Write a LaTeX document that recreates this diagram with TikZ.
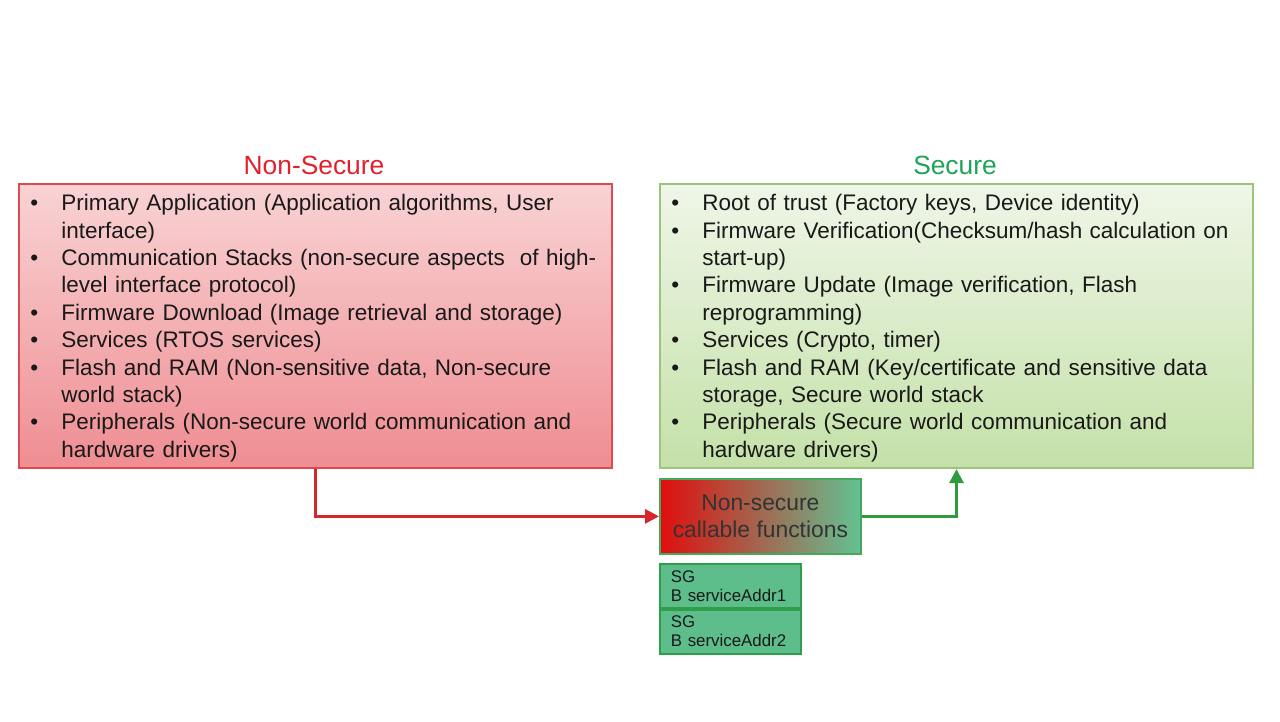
\documentclass[tikz,border=0pt]{standalone}
\usepackage{fontspec}
\setmainfont{Liberation Sans}
\usetikzlibrary{arrows.meta}

\definecolor{nsred}{HTML}{E2202B}
\definecolor{sgreen}{HTML}{1EA456}
\definecolor{nsborder}{HTML}{DD4A50}
\definecolor{nstop}{HTML}{F9D3D4}
\definecolor{nsbottom}{HTML}{EF8D92}
\definecolor{sborder}{HTML}{9CC47F}
\definecolor{stop}{HTML}{EFF6E8}
\definecolor{sbottom}{HTML}{C4E1A8}
\definecolor{callred}{HTML}{E00E0E}
\definecolor{callgreen}{HTML}{63C293}
\definecolor{callborder}{HTML}{46A85A}
\definecolor{sgfill}{HTML}{5DBE8C}
\definecolor{sgborder}{HTML}{2E9E4A}
\definecolor{arrred}{HTML}{D7262B}
\definecolor{arrgreen}{HTML}{2E9B3E}

\newcommand{\bitem}[1]{\hangindent=0.62cm\hangafter=1\noindent\makebox[0.62cm][l]{\textbullet}#1\par}

\begin{document}
\begin{tikzpicture}[x=0.02cm,y=-0.02cm,
    worldbox/.style={anchor=north west,minimum width=11.86cm,minimum height=5.68cm,inner sep=0pt,line width=1.2pt},
    worldtitle/.style={font=\fontsize{15}{18}\selectfont},
    listtext/.style={anchor=north west,inner sep=0pt,text width=13cm,align=left,text=black!90,font=\fontsize{12.8}{15.6}\selectfont},
    sgbox/.style={anchor=north west,minimum width=2.82cm,minimum height=0.88cm,inner xsep=0.22cm,inner ysep=0pt,text width=2.38cm,align=left,fill=sgfill,draw=sgborder,line width=1pt,text=black!90,font=\fontsize{9.6}{10.8}\selectfont},
    link/.style={line width=1.7pt,-{Triangle[length=0.28cm,width=0.28cm]}}]
    \useasboundingbox (0,0) rectangle (1280,721);

    % the two worlds
    \node at (18,183) [worldbox,draw=nsborder,top color=nstop,bottom color=nsbottom] (nonsec) {};
    \node at (659,183) [worldbox,draw=sborder,top color=stop,bottom color=sbottom] (sec) {};
    \node at (314,165) [worldtitle,text=nsred] (nonsectitle) {Non-Secure};
    \node at (955,165) [worldtitle,text=sgreen] (sectitle) {Secure};

    \node at ([shift={(12,11)}]nonsec.north west) [listtext] (nonsectext) {%
        \bitem{Primary Application (Application algorithms, User\newline interface)}
        \bitem{Communication Stacks (non-secure aspects \ of high-\newline level interface protocol)}
        \bitem{Firmware Download (Image retrieval and storage)}
        \bitem{Services (RTOS services)}
        \bitem{Flash and RAM (Non-sensitive data, Non-secure\newline world stack)}
        \bitem{Peripherals (Non-secure world communication and\newline hardware drivers)}};
    \node at ([shift={(12,11)}]sec.north west) [listtext] (sectext) {%
        \bitem{Root of trust (Factory keys, Device identity)}
        \bitem{Firmware Verification(Checksum/hash calculation on\newline start-up)}
        \bitem{Firmware Update (Image verification, Flash\newline reprogramming)}
        \bitem{Services (Crypto, timer)}
        \bitem{Flash and RAM (Key/certificate and sensitive data\newline storage, Secure world stack}
        \bitem{Peripherals (Secure world communication and\newline hardware drivers)}};

    % veneer
    \node at (659,478) [anchor=north west,minimum width=4.02cm,minimum height=1.5cm,inner sep=0pt,
        left color=callred,right color=callgreen,draw=callborder,line width=1pt,align=center,
        text=black!80,font=\fontsize{13}{15.5}\selectfont] (nsc) {Non-secure\\callable functions};
    \node at (659,563) [sgbox] (sg1) {SG\\B serviceAddr1};
    \node at (sg1.south west) [sgbox] (sg2) {SG\\B serviceAddr2};

    \draw [link,arrred] (nonsec.south) |- (nsc.west);
    \draw [link,arrgreen] (nsc.east) -| (sec.south);
\end{tikzpicture}
\end{document}
